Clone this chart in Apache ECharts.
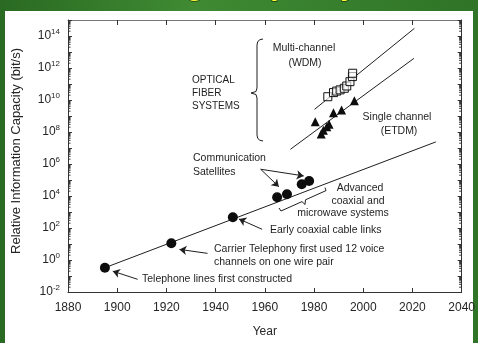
<!DOCTYPE html>
<html>
<head>
<meta charset="utf-8">
<script src="https://cdn.jsdelivr.net/npm/echarts@6/dist/echarts.min.js"></script>
<style>
  html, body { margin: 0; padding: 0; width: 478px; height: 343px; overflow: hidden; }
  body { background: linear-gradient(90deg, #2a6a22 0%, #3f8a33 40%, #2f7427 100%); }
  #panel { position: absolute; left: 5px; top: 11px; width: 468px; height: 332px; background: #fff; }
  #chart { position: absolute; left: 0; top: 0; width: 478px; height: 343px; }
</style>
</head>
<body>
<div id="panel"></div>
<div id="chart"></div>
<script>
// Milestones of conventional (copper / coax / microwave / satellite) transmission
const milestoneYears = [1895, 1922, 1947, 1965, 1969, 1975, 1978];
const milestoneCapacity = [0.33, 11, 470, 8300, 13000, 54000, 87000];

// Single-channel optical fibre systems (ETDM)
const etdmYears = [1980.5, 1982.9, 1983.8, 1985.2, 1986.1, 1987.9, 1991.2, 1996.4];
const etdmCapacity = [4.4e8, 7.5e7, 1.3e8, 2.1e8, 3.0e8, 1.6e9, 2.4e9, 9.1e9];

// Multi-channel optical fibre systems (WDM)
const wdmYears = [1985.6, 1987.9, 1989.2, 1990.6, 1992.3, 1993.3, 1994.6, 1995.6, 1995.7];
const wdmCapacity = [1.6e10, 2.9e10, 3.6e10, 4.3e10, 5.4e10, 7.5e10, 1.4e11, 2.9e11, 4.7e11];

// Trend lines
const copperTrendYears = [1895, 2029.5];
const copperTrendCapacity = [0.33, 2.4e7];
const etdmTrendYears = [1970.4, 2020.6];
const etdmTrendCapacity = [8.3e6, 4.0e12];
const wdmTrendYears = [1980.2, 2020.8];
const wdmTrendCapacity = [2.6e9, 3.0e14];

// Axis ticks: years, and decades of capacity (powers of ten)
const yearTicks = [1880, 1900, 1920, 1940, 1960, 1980, 2000, 2020, 2040];
const decadeMin = -2, decadeMax = 15;

// Annotation arrows: [tail year, tail value] -> [head year, head value]
const arrows = [
  [[1908.3, 0.062], [1898.2, 0.2]],
  [[1936.7, 2.6], [1925.3, 4.6]],
  [[1958.9, 83], [1949.5, 365]],
  [[1958.3, 4.7e5], [1965.7, 3.8e4]],
  [[1958.3, 4.7e5], [1975.8, 1.8e5]]
];

// Capacities are plotted on a base-10 logarithmic scale
const lg = v => Math.log10(v);
const pts = (xs, ys) => xs.map((x, i) => [x, lg(ys[i])]);

const INK = '#1e1e1e';
const LABEL = '#262626';
const FONT = 'Arial, "Liberation Sans", sans-serif';

const chart = echarts.init(document.getElementById('chart'), null, { renderer: 'canvas' });

function decadeLabel(e) {
  if (e % 2 !== 0) return '';
  return '{b|10}{s|' + e + '}';
}

// Logarithmic minor ticks (2x .. 9x of every decade)
const minorTicks = [];
for (let n = decadeMin; n < decadeMax; n++) {
  for (let k = 2; k <= 9; k++) minorTicks.push([yearTicks[0], n + lg(k)]);
}

const lineSeries = (name, xs, ys) => ({
  name, type: 'line', data: pts(xs, ys), symbol: 'none',
  lineStyle: { color: INK, width: 1 }, silent: true, z: 2
});

// Annotation text, laid out in pixels
const notes = [
  { t: 'Multi-channel', x: 304, y: 48, a: 'center', s: 10.5 },
  { t: '(WDM)', x: 305, y: 63, a: 'center', s: 10.5 },
  { t: 'OPTICAL', x: 192, y: 80, a: 'left', s: 10 },
  { t: 'FIBER', x: 192, y: 93, a: 'left', s: 10 },
  { t: 'SYSTEMS', x: 192, y: 106, a: 'left', s: 10 },
  { t: 'Single channel', x: 397, y: 117, a: 'center', s: 10.5 },
  { t: '(ETDM)', x: 399, y: 131, a: 'center', s: 10.5 },
  { t: 'Communication', x: 193, y: 158, a: 'left', s: 10.5 },
  { t: 'Satellites', x: 193, y: 172, a: 'left', s: 10.5 },
  { t: 'Advanced', x: 360, y: 188, a: 'center', s: 10.5 },
  { t: 'coaxial and', x: 358, y: 201, a: 'center', s: 10.5 },
  { t: 'microwave systems', x: 343, y: 213, a: 'center', s: 10.5 },
  { t: 'Early coaxial cable links', x: 270, y: 230, a: 'left', s: 10.5 },
  { t: 'Carrier Telephony first used 12 voice', x: 214, y: 249, a: 'left', s: 10.5 },
  { t: 'channels on one wire pair', x: 214, y: 262, a: 'left', s: 10.5 },
  { t: 'Telephone lines first constructed', x: 142, y: 279, a: 'left', s: 10.5 }
];

const graphics = notes.map(n => ({
  type: 'text', x: n.x, y: n.y, silent: true,
  style: { text: n.t, fill: INK, font: n.s + 'px ' + FONT, textAlign: n.a, textVerticalAlign: 'middle' }
}));

// Vertical axis title
graphics.push({
  type: 'text', x: 16, y: 151, rotation: Math.PI / 2, silent: true,
  style: { text: 'Relative Information Capacity (bit/s)', fill: LABEL, font: '13px ' + FONT,
           textAlign: 'center', textVerticalAlign: 'middle' }
});

// Curly brace grouping the optical systems
graphics.push({
  type: 'polyline', silent: true,
  shape: { points: [[263, 39], [259.5, 39.8], [257.6, 42], [257, 45], [257, 88], [256, 91.5], [251, 93],
                    [256, 94.5], [257, 98], [257, 135], [257.6, 138], [259.5, 140.2], [263, 141]] },
  style: { fill: null, stroke: INK, lineWidth: 1 }
});
// Small brace under the coaxial / microwave points
graphics.push({
  type: 'polyline', silent: true,
  shape: { points: [[279, 208], [281, 211], [302, 201.6], [305, 204.5], [305.5, 199.8], [326, 190.6], [325, 187.6]] },
  style: { fill: null, stroke: INK, lineWidth: 1 }
});
// Heading in the top band
const headStyle = { fill: '#ffff33', stroke: '#1b3a12', lineWidth: 1.5, font: 'bold 30px ' + FONT,
                    textAlign: 'left', textVerticalAlign: 'top' };
graphics.push({ type: 'text', x: 54, y: -28, silent: true, style: Object.assign({ text: 'Increasing' }, headStyle) });
graphics.push({ type: 'text', x: 232, y: -28, silent: true, style: Object.assign({ text: 'Capacity' }, headStyle) });

const yearAxisBase = {
  type: 'value', min: yearTicks[0], max: yearTicks[yearTicks.length - 1], interval: 20,
  splitLine: { show: false }
};
const decadeAxisBase = {
  type: 'value', min: decadeMin, max: decadeMax, interval: 1,
  splitLine: { show: false }
};

const option = {
  animation: false,
  grid: { left: 68, right: 14, top: 20, bottom: 51 },
  xAxis: [
    Object.assign({}, yearAxisBase, {
      axisLine: { onZero: false, lineStyle: { color: '#333', width: 1 } },
      axisTick: { inside: true, length: 4, lineStyle: { color: '#333' } },
      axisLabel: { color: LABEL, fontSize: 12, fontFamily: FONT, margin: 10, formatter: v => String(v) },
      name: 'Year', nameLocation: 'middle', nameGap: 34,
      nameTextStyle: { color: LABEL, fontSize: 12, fontFamily: FONT }
    }),
    Object.assign({}, yearAxisBase, {
      position: 'top',
      axisLine: { show: true, onZero: false, lineStyle: { color: '#777', width: 1 } },
      axisTick: { inside: true, length: 5, lineStyle: { color: '#333' } },
      axisLabel: { show: false }
    })
  ],
  yAxis: [
    Object.assign({}, decadeAxisBase, {
      axisLine: { show: true, onZero: false, lineStyle: { color: '#333', width: 1 } },
      axisTick: { show: true, inside: true, length: 4, lineStyle: { color: '#333' } },
      axisLabel: {
        formatter: decadeLabel, margin: 8,
        rich: {
          b: { fontSize: 12, color: LABEL, fontFamily: FONT },
          s: { fontSize: 8, color: LABEL, fontFamily: FONT, padding: [0, 0, 9, 0] }
        }
      }
    }),
    Object.assign({}, decadeAxisBase, {
      position: 'right',
      axisLine: { show: true, onZero: false, lineStyle: { color: '#333', width: 1 } },
      axisTick: { show: true, inside: true, length: 4, lineStyle: { color: '#333' } },
      axisLabel: { show: false }
    })
  ],
  series: [
    {
      name: 'Minor ticks', type: 'custom', silent: true, clip: false, z: 1,
      data: minorTicks,
      renderItem: (params, api) => {
        const l = api.coord([yearTicks[0], api.value(1)]);
        const r = api.coord([yearTicks[yearTicks.length - 1], api.value(1)]);
        const st = { stroke: '#333', lineWidth: 1 };
        return {
          type: 'group', children: [
            { type: 'line', shape: { x1: l[0], y1: l[1], x2: l[0] + 2.5, y2: l[1] }, style: st },
            { type: 'line', shape: { x1: r[0] - 2.5, y1: r[1], x2: r[0], y2: r[1] }, style: st }
          ]
        };
      }
    },
    Object.assign(lineSeries('Copper and radio trend', copperTrendYears, copperTrendCapacity), {
      markLine: {
        silent: true, symbol: ['none', 'arrow'], symbolSize: 7, label: { show: false },
        lineStyle: { color: INK, width: 1, type: 'solid' },
        data: arrows.map(a => [{ coord: [a[0][0], lg(a[0][1])] }, { coord: [a[1][0], lg(a[1][1])] }])
      }
    }),
    lineSeries('ETDM trend', etdmTrendYears, etdmTrendCapacity),
    lineSeries('WDM trend', wdmTrendYears, wdmTrendCapacity),
    {
      name: 'Milestones', type: 'scatter', data: pts(milestoneYears, milestoneCapacity),
      symbol: 'circle', symbolSize: 10, itemStyle: { color: '#0d0d0d', opacity: 1 }, z: 3
    },
    {
      name: 'Single channel (ETDM)', type: 'scatter', data: pts(etdmYears, etdmCapacity),
      symbol: 'triangle', symbolSize: 9, itemStyle: { color: '#0d0d0d', opacity: 1 }, z: 3
    },
    {
      name: 'Multi-channel (WDM)', type: 'scatter', data: pts(wdmYears, wdmCapacity),
      symbol: 'rect', symbolSize: 8,
      itemStyle: { color: 'rgba(255,255,255,0.6)', borderColor: '#111', borderWidth: 1, opacity: 1 }, z: 3
    }
  ],
  graphic: graphics
};

chart.setOption(option);
</script>
</body>
</html>
